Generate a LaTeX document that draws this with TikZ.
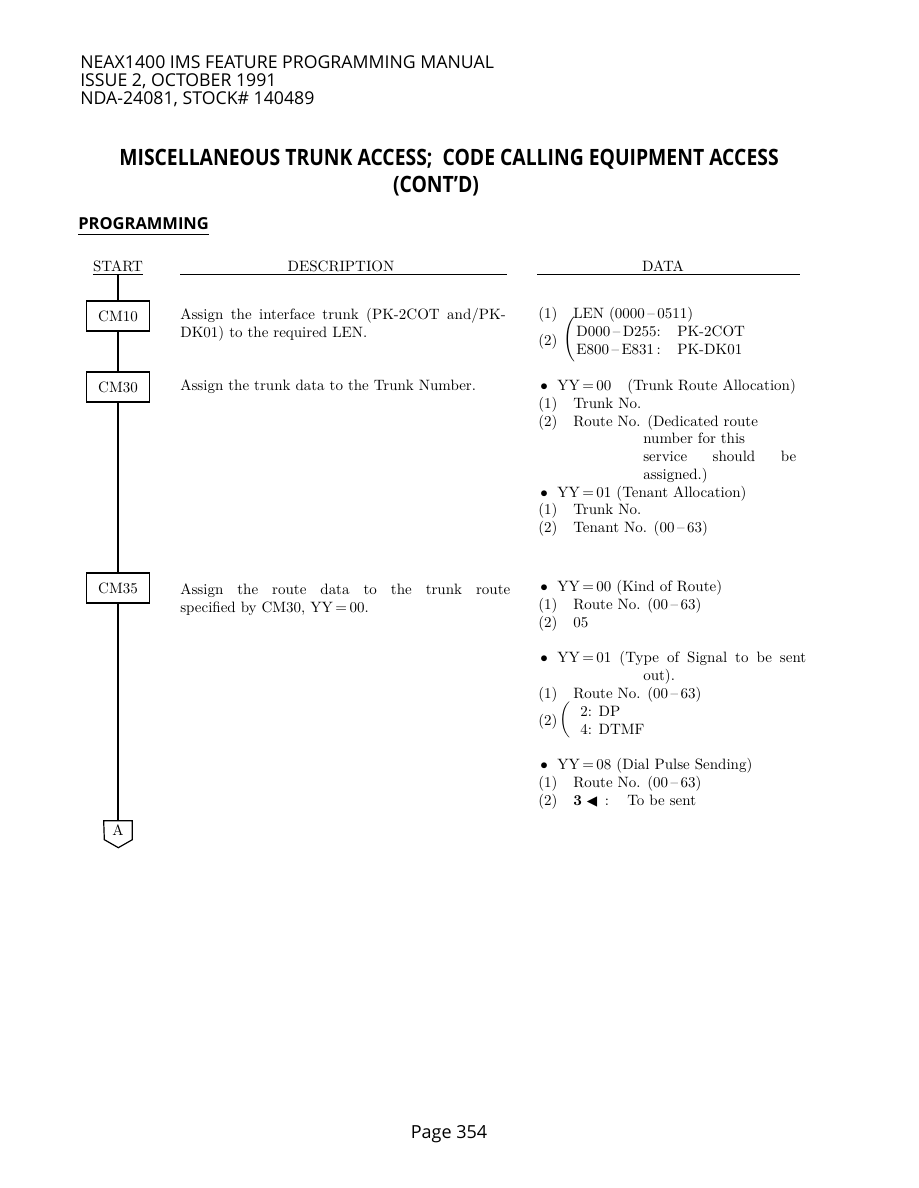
\documentclass[tikz,border=0pt]{standalone}
\usepackage{fontspec}
\newfontfamily\hdfont{Open Sans}
\newfontfamily\titlefont[FakeStretch=0.86]{Open Sans}
\newfontfamily\symfont{DejaVu Sans}
\newcommand{\spreadline}[2]{\makebox[#1][s]{#2}}
\newcommand{\yy}[1]{YY\,=\,#1}
\tikzset{
  cmbox/.style={draw, line width=0.8pt, minimum width=41.5pt, minimum height=20pt, inner sep=0pt, font=\fontsize{10}{12}\selectfont},
  txt/.style={anchor=base west, inner sep=0pt, font=\fontsize{10}{12}\selectfont},
  hdr/.style={anchor=base west, inner sep=0pt, font=\hdfont\fontsize{11.8}{13}\selectfont},
  flow/.style={line width=0.8pt},
  rulel/.style={line width=0.6pt}
}
\begin{document}
\begin{tikzpicture}[x=0.6667pt, y=-0.6667pt]
    \useasboundingbox (0,0) rectangle (918,1188);

    % Page header
    \node[hdr] (hdrA) at (80,69) {NEAX1400 IMS FEATURE PROGRAMMING MANUAL};
    \node[hdr] (hdrB) at (80,87) {ISSUE 2, OCTOBER 1991};
    \node[hdr] (hdrC) at (80,105) {NDA-24081, STOCK\# 140489};

    % Title
    \node[anchor=base, inner sep=0pt, font=\titlefont\bfseries\fontsize{15}{17}\selectfont] (title) at (449,166)
        {MISCELLANEOUS TRUNK ACCESS;\ \ CODE CALLING EQUIPMENT ACCESS};
    \node[anchor=base, inner sep=0pt, font=\titlefont\bfseries\fontsize{15}{17}\selectfont] (cont) at (436,193) {(CONT’D)};
    \node[hdr, font=\hdfont\bfseries\fontsize{11}{13}\selectfont] (prog) at (78,230) {PROGRAMMING};
    \draw[line width=0.8pt] ([yshift=-2.5pt]prog.south west) -- ([yshift=-2.5pt]prog.south east);

    % Column heads
    \node[anchor=base, inner sep=0pt, font=\fontsize{10}{12}\selectfont] (start) at (118,271) {START};
    \draw[rulel] ([yshift=-2pt]start.south west) -- ([yshift=-2pt]start.south east);
    \node[anchor=base, inner sep=0pt, font=\fontsize{10}{12}\selectfont] (hdrDesc) at (341,271) {DESCRIPTION};
    \draw[rulel] (180,274) -- (507,274);
    \node[anchor=base, inner sep=0pt, font=\fontsize{10}{12}\selectfont] (hdrData) at (663,271) {DATA};
    \draw[rulel] (537,274) -- (800,274);

    % Flow chart
    \node[cmbox] (cm10) at (118,316) {CM10};
    \node[cmbox] (cm30) at (118,387) {CM30};
    \node[cmbox] (cm35) at (118,588) {CM35};
    \node[inner sep=0pt, minimum width=18.7pt, minimum height=12.7pt, font=\fontsize{10}{12}\selectfont] (conA) at (118,830.5) {A};
    \draw[flow] (conA.north west) -- (conA.north east) -- ++(0,19) -- ++(-14,8) -- ++(-14,-8) -- cycle;

    \draw[flow] ([yshift=-2pt]start.south) -- (cm10.north);
    \draw[flow] (cm10) -- (cm30);
    \draw[flow] (cm30) -- (cm35);
    \draw[flow] (cm35.south) -- (conA.north);

    % Descriptions
    \node[txt] (desc10a) at (180,319) {\spreadline{217pt}{Assign the interface trunk (PK-2COT and/PK-}};
    \node[txt] (desc10b) at (180,337) {DK01) to the required LEN.};
    \node[txt] (desc30) at (180,390) {Assign the trunk data to the Trunk Number.};
    \node[txt] (desc35a) at (180,594) {\spreadline{220pt}{Assign the route data to the trunk route}};
    \node[txt] (desc35b) at (180,612) {specified by CM30, \yy{00}.};

    % Data for CM10
    \node[txt] (d10n1) at (538,318) {(1)};
    \node[txt] (d10t1) at (573,318) {LEN (0000\,--\,0511)};
    \node[txt] (d10n2) at (538,345) {(2)};
    \node[inner sep=0pt] (d10br) at (570,339) {$\left(\vrule height 11pt depth 11pt width 0pt\right.$};
    \node[txt] (d10a) at (576,336) {D000\,--\,D255:};
    \node[txt] (d10b) at (677,336) {PK-2COT};
    \node[txt] (d10c) at (576,354) {E800\,--\,E831\,:};
    \node[txt] (d10d) at (677,354) {PK-DK01};

    % Data for CM30
    \node[txt] (d30b1) at (540,390) {$\bullet$};
    \node[txt] (d30y1) at (557,390) {\yy{00}};
    \node[txt] (d30y1t) at (627,390) {(Trunk Route Allocation)};
    \node[txt] (d30n1) at (538,408) {(1)};
    \node[txt] (d30t1) at (573,408) {Trunk No.};
    \node[txt] (d30n2) at (538,426) {(2)};
    \node[txt] (d30t2) at (573,426) {Route No. (Dedicated route};
    \node[txt] (d30t3) at (643,443) {number for this};
    \node[txt] (d30t4) at (643,461) {\spreadline{102pt}{service should be}};
    \node[txt] (d30t5) at (643,479) {assigned.)};
    \node[txt] (d30b2) at (540,497) {$\bullet$};
    \node[txt] (d30y2) at (557,497) {\yy{01} (Tenant Allocation)};
    \node[txt] (d30n3) at (538,514) {(1)};
    \node[txt] (d30t6) at (573,514) {Trunk No.};
    \node[txt] (d30n4) at (538,532) {(2)};
    \node[txt] (d30t7) at (573,532) {Tenant No. (00\,--\,63)};

    % Data for CM35
    \node[txt] (d35b1) at (540,591) {$\bullet$};
    \node[txt] (d35y1) at (557,591) {\yy{00} (Kind of Route)};
    \node[txt] (d35n1) at (538,609) {(1)};
    \node[txt] (d35t1) at (573,609) {Route No. (00\,--\,63)};
    \node[txt] (d35n2) at (538,627) {(2)};
    \node[txt] (d35t2) at (573,627) {05};
    \node[txt] (d35b2) at (540,662) {$\bullet$};
    \node[txt] (d35y2) at (557,662) {\spreadline{166pt}{\yy{01} (Type of Signal to be sent}};
    \node[txt] (d35t3) at (643,680) {out).};
    \node[txt] (d35n3) at (538,698) {(1)};
    \node[txt] (d35t4) at (573,698) {Route No. (00\,--\,63)};
    \node[txt] (d35n4) at (538,725) {(2)};
    \node[inner sep=0pt] (d35br) at (566,720) {$\left(\vrule height 10pt depth 10pt width 0pt\right.$};
    \node[txt] (d35t5) at (580,716) {2: DP};
    \node[txt] (d35t6) at (580,734) {4: DTMF};
    \node[txt] (d35b3) at (540,769) {$\bullet$};
    \node[txt] (d35y3) at (557,769) {\yy{08} (Dial Pulse Sending)};
    \node[txt] (d35n5) at (538,787) {(1)};
    \node[txt] (d35t7) at (573,787) {Route No. (00\,--\,63)};
    \node[txt] (d35n6) at (538,805) {(2)};
    \node[txt] (d35t8) at (573,805) {\textbf{3} {\symfont\small ◀} \,:};
    \node[txt] (d35t9) at (627,805) {To be sent};

    % Footer
    \node[anchor=base, inner sep=0pt, font=\hdfont\fontsize{12}{14}\selectfont] (page) at (449,1138) {Page 354};
\end{tikzpicture}
\end{document}
